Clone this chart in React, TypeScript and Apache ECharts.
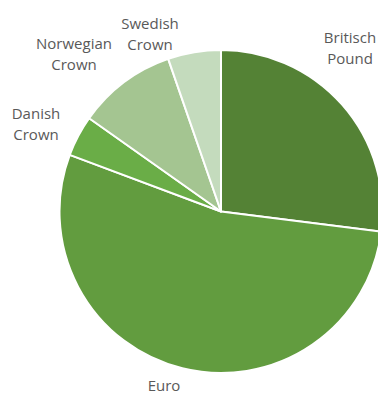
import React, { useEffect, useRef } from "react";
import * as echarts from "echarts";

const categories = ["Britisch\nPound", "Euro", "Danish\nCrown", "Norwegian\nCrown", "Swedish\nCrown"];
const shares = [27.0, 53.7, 4.1, 9.9, 5.3];
const sliceColors = ["#548235", "#629c3f", "#6aad47", "#a4c591", "#c4dbbd"];
// label block centres (layout only)
const labelSpots = [
  [350, 47],
  [164, 385],
  [36, 123],
  [74, 53],
  [150, 33],
];

export default function App() {
  const ref = useRef<HTMLDivElement>(null);
  useEffect(() => {
    if (!ref.current) return;
    const chart = echarts.init(ref.current, null, { renderer: "svg" });
    chart.setOption({
      animation: false,
      backgroundColor: "#ffffff",
      series: [
        {
          type: "pie",
          center: [221, 211.5],
          radius: 161.5,
          startAngle: 90,
          clockwise: true,
          avoidLabelOverlap: false,
          itemStyle: { borderColor: "#ffffff", borderWidth: 2 },
          label: {
            show: true,
            position: "outside",
            formatter: "{b}",
            color: "#595959",
            fontFamily: "Open Sans",
            fontSize: 15,
            lineHeight: 21,
            align: "center",
          },
          labelLine: { show: false },
          labelLayout: (p: any) => ({
            x: labelSpots[p.dataIndex][0],
            y: labelSpots[p.dataIndex][1],
            align: "center",
            verticalAlign: "middle",
          }),
          data: categories.map((c, i) => ({
            name: c,
            value: shares[i],
            itemStyle: { color: sliceColors[i] },
          })),
        },
      ],
    });
    return () => chart.dispose();
  }, []);
  return (
    <div
      ref={ref}
      style={{ position: "fixed", left: 0, top: 0, width: 378, height: 394 }}
    />
  );
}
